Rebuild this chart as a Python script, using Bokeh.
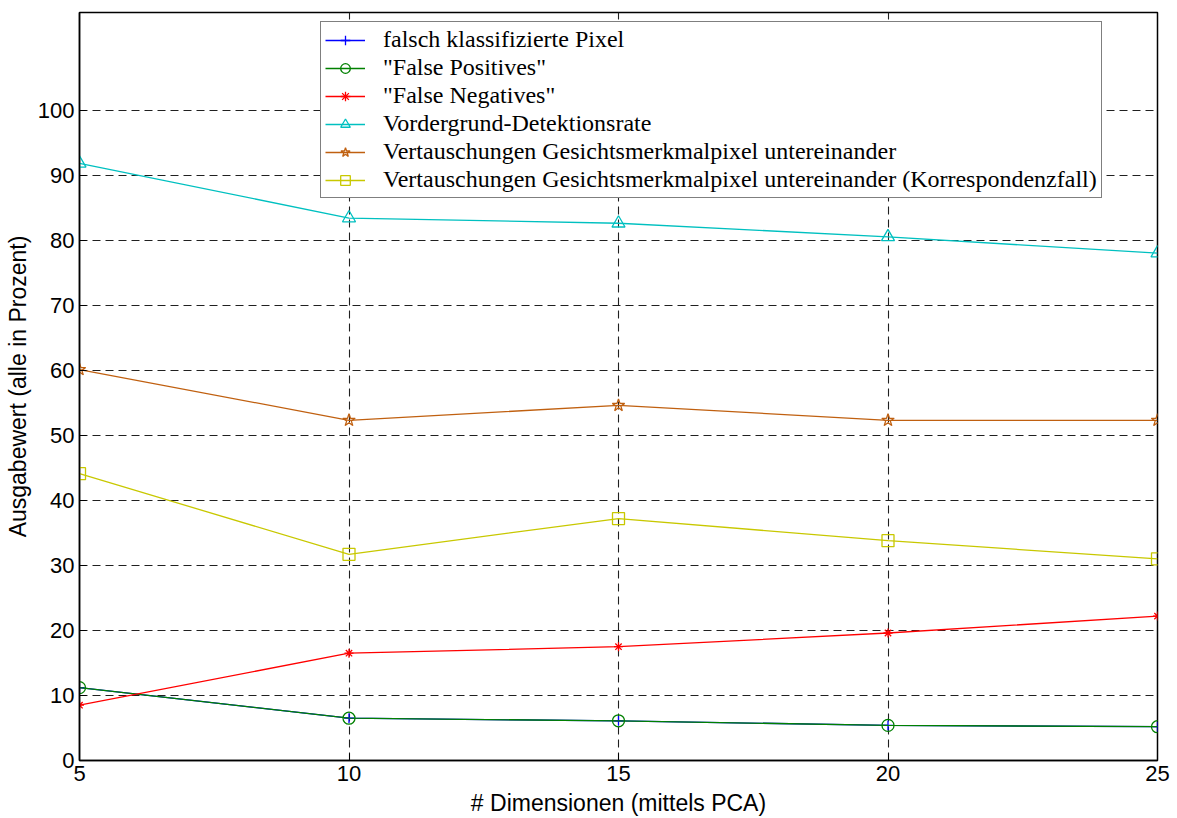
from bokeh.plotting import figure
from bokeh.models import Legend, LegendItem, FixedTicker, Range1d
from bokeh.embed import file_html
from bokeh.resources import INLINE

dims = [5, 10, 15, 20, 25]
falsch = [11.2, 6.5, 6.1, 5.4, 5.2]
false_pos = [11.2, 6.5, 6.1, 5.4, 5.2]
false_neg = [8.5, 16.5, 17.5, 19.6, 22.2]
vordergrund = [91.8, 83.4, 82.6, 80.5, 78.0]
vertausch = [60.1, 52.3, 54.6, 52.3, 52.3]
vertausch_korr = [44.1, 31.7, 37.2, 33.8, 31.0]

labels = [
    "falsch klassifizierte Pixel",
    '"False Positives"',
    '"False Negatives"',
    "Vordergrund-Detektionsrate",
    "Vertauschungen Gesichtsmerkmalpixel untereinander",
    "Vertauschungen Gesichtsmerkmalpixel untereinander (Korrespondenzfall)",
]
x_ticks = [5, 10, 15, 20, 25]
y_ticks = [0, 10, 20, 30, 40, 50, 60, 70, 80, 90, 100]

p = figure(width=1177, height=818, output_backend="svg", toolbar_location=None,
           x_range=Range1d(5, 25), y_range=Range1d(0, 115))
p.min_border_left = 79
p.min_border_right = 20
p.min_border_top = 12
p.min_border_bottom = 56
p.outline_line_color = "black"
p.outline_line_width = 1.5
p.background_fill_color = "white"
p.border_fill_color = "white"

tick_font = "Liberation Sans"
for ax in (p.xaxis[0], p.yaxis[0]):
    ax.axis_line_color = "black"
    ax.axis_line_width = 1.5
    ax.major_tick_in = 7
    ax.major_tick_out = 0
    ax.minor_tick_line_color = None
    ax.major_label_text_font = tick_font
    ax.major_label_text_font_size = "22px"
    ax.major_label_text_color = "black"
    ax.axis_label_text_font = tick_font
    ax.axis_label_text_font_size = "23px"
    ax.axis_label_text_font_style = "normal"
    ax.axis_label_text_color = "black"

p.xaxis.ticker = FixedTicker(ticks=x_ticks)
p.yaxis.ticker = FixedTicker(ticks=y_ticks)
p.xaxis.axis_label = "# Dimensionen (mittels PCA)"
p.yaxis.axis_label = "Ausgabewert (alle in Prozent)"
p.xaxis.major_label_standoff = 5
p.yaxis.major_label_standoff = 5
p.xaxis.axis_label_standoff = 6
p.yaxis.axis_label_standoff = 4

for g in (p.xgrid[0], p.ygrid[0]):
    g.grid_line_color = "#202020"
    g.grid_line_dash = "8 5"
    g.grid_line_width = 1.1
p.xgrid.ticker = FixedTicker(ticks=x_ticks)
p.ygrid.ticker = FixedTicker(ticks=y_ticks)

series = [
    (falsch, "#0000ff", "cross", 10),
    (false_pos, "#008000", "circle", 12),
    (false_neg, "#ff0000", "asterisk", 9),
    (vordergrund, "#00c0c0", "triangle", 13),
    (vertausch, "#c06010", "star", 13),
    (vertausch_korr, "#c8c800", "square", 12),
]

items = []
for (vals, color, marker, size), lab in zip(series, labels):
    ln = p.line(dims, vals, line_color=color, line_width=1.3)
    sc = p.scatter(dims, vals, marker=marker, size=size, line_color=color,
                   fill_color=None, line_width=1.3)
    items.append(LegendItem(label=lab, renderers=[ln, sc]))

legend = Legend(items=items, location=(241, 562))
legend.margin = 0
legend.padding = 4
legend.spacing = 1
legend.label_height = 24
legend.glyph_height = 24
legend.glyph_width = 40
legend.label_standoff = 18
legend.label_text_font = "Liberation Serif"
legend.label_text_font_size = "24px"
legend.label_text_color = "black"
legend.border_line_color = "black"
legend.border_line_width = 1.2
legend.background_fill_color = "white"
legend.background_fill_alpha = 1.0
p.add_layout(legend)

open("out.html", "w").write(file_html(p, INLINE))
